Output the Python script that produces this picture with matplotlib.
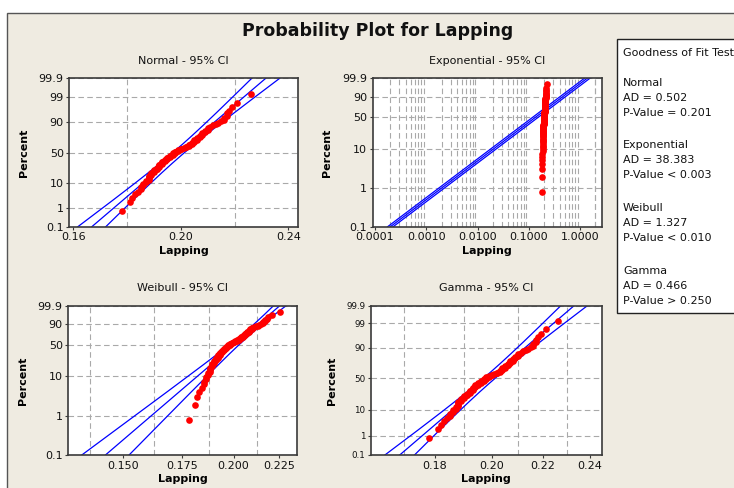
import numpy as np
import matplotlib
matplotlib.use('Agg')
import matplotlib.pyplot as plt
from matplotlib.ticker import FixedLocator, FixedFormatter, NullFormatter
from matplotlib.patches import Rectangle
from statistics import NormalDist

# ---------------- data ----------------
lapping = [0.178, 0.181, 0.182, 0.183, 0.184, 0.185, 0.185, 0.186, 0.186, 0.187,
           0.187, 0.188, 0.188, 0.188, 0.188, 0.189, 0.189, 0.189, 0.190, 0.190,
           0.190, 0.191, 0.191, 0.191, 0.192, 0.192, 0.192, 0.192, 0.193, 0.193,
           0.193, 0.193, 0.194, 0.194, 0.194, 0.195, 0.195, 0.195, 0.196, 0.196,
           0.196, 0.197, 0.197, 0.197, 0.198, 0.198, 0.198, 0.199, 0.199, 0.200,
           0.200, 0.201, 0.202, 0.202, 0.203, 0.203, 0.203, 0.204, 0.204, 0.204,
           0.205, 0.205, 0.205, 0.206, 0.206, 0.206, 0.207, 0.207, 0.207, 0.208,
           0.208, 0.208, 0.209, 0.209, 0.210, 0.210, 0.210, 0.211, 0.212, 0.213,
           0.214, 0.215, 0.216, 0.216, 0.217, 0.217, 0.218, 0.219, 0.221, 0.226]

gof_dists = ['Normal', 'Exponential', 'Weibull', 'Gamma']
gof_ad = ['0.502', '38.383', '1.327', '0.466']
gof_p = ['= 0.201', '< 0.003', '< 0.010', '> 0.250']

pct_ticks_full = [0.1, 1, 10, 50, 90, 99, 99.9]
pct_labels_full = ['0.1', '1', '10', '50', '90', '99', '99.9']
pct_ticks_ev = [0.1, 1, 10, 50, 90, 99.9]
pct_labels_ev = ['0.1', '1', '10', '50', '90', '99.9']

normal_xticks = [0.16, 0.20, 0.24]
normal_xlabels = ['0.16', '0.20', '0.24']
normal_xgrid = [0.16, 0.18, 0.20, 0.22, 0.24]

exp_xticks = [0.0001, 0.001, 0.01, 0.1, 1.0]
exp_xlabels = ['0.0001', '0.0010', '0.0100', '0.1000', '1.0000']
exp_xgrid = [m * 10.0 ** e for e in range(-4, 1) for m in range(1, 10)] + [2.0]

weib_xticks = [0.150, 0.175, 0.200, 0.225]
weib_xlabels = ['0.150', '0.175', '0.200', '0.225']
weib_xgrid = [0.1375, 0.150, 0.1625, 0.175, 0.1875, 0.200, 0.2125, 0.225]

gam_xticks = [0.18, 0.20, 0.22, 0.24]
gam_xlabels = ['0.18', '0.20', '0.22', '0.24']
gam_xgrid = [0.17, 0.18, 0.19, 0.20, 0.21, 0.22, 0.23, 0.24]

# ---------------- helpers ----------------
x = np.sort(np.array(lapping))
n = len(x)
ranks = np.arange(1, n + 1)
pos = 100.0 * (ranks - 0.3) / (n + 0.4)

_nd = NormalDist()
_inv = np.vectorize(_nd.inv_cdf, otypes=[float])
_cdf = np.vectorize(_nd.cdf, otypes=[float])


def norm_fwd(p):
    p = np.clip(np.asarray(p, float) / 100.0, 1e-9, 1 - 1e-9)
    return _inv(p)


def norm_inv(z):
    return 100.0 * _cdf(np.asarray(z, float))


def ev_fwd(p):
    p = np.clip(np.asarray(p, float) / 100.0, 1e-12, 1 - 1e-12)
    return np.log(-np.log1p(-p))


def ev_inv(y):
    return 100.0 * (-np.expm1(-np.exp(np.asarray(y, float))))


# fits
mu = x.mean()
sd = x.std()  # MLE

# Weibull MLE
lx = np.log(x)
xs = x / x.max()
lxs = np.log(xs)


def wg(beta):
    xb = xs ** beta
    return (xb * lxs).sum() / xb.sum() - 1.0 / beta - lxs.mean()


lo, hi = 0.5, 300.0
for _ in range(200):
    mid = 0.5 * (lo + hi)
    if wg(mid) > 0:
        hi = mid
    else:
        lo = mid
wbeta = 0.5 * (lo + hi)
walpha = np.mean(x ** wbeta) ** (1.0 / wbeta)

# Exponential
theta = x.mean()

# Gamma (Minka approximation)
s = np.log(x.mean()) - lx.mean()
gk = (3 - s + np.sqrt((s - 3) ** 2 + 24 * s)) / (12 * s)
gtheta = x.mean() / gk


def gam_q(p, k):
    z = norm_fwd(p)
    t = 1 - 1.0 / (9 * k) + z / (3 * np.sqrt(k))
    return k * np.maximum(t, 1e-9) ** 3


def gam_fwd(p):
    z = norm_fwd(p)
    t = 1 - 1.0 / (9 * gk) + z / (3 * np.sqrt(gk))
    return 3 * np.log(np.maximum(t, 1e-9))


def gam_inv(y):
    t = np.exp(np.asarray(y, float) / 3.0)
    z = (t - 1 + 1.0 / (9 * gk)) * 3 * np.sqrt(gk)
    return norm_inv(z)


P = np.concatenate([np.linspace(0.1, 1, 60), np.linspace(1, 99, 300), np.linspace(99, 99.9, 60)])
zc = 1.959964

# normal bands
zP = norm_fwd(P)
n_mid = mu + zP * sd
n_se = sd * np.sqrt(1.0 / n + zP ** 2 / (2.0 * n))
normal_lines = [n_mid - zc * n_se, n_mid, n_mid + zc * n_se]

# exponential bands
wP = -np.log1p(-P / 100.0)
e_mid = theta * wP
e_se = 0.6 / np.sqrt(n)
exp_lines = [e_mid * np.exp(-zc * e_se), e_mid, e_mid * np.exp(zc * e_se)]

# weibull bands
ew = np.log(wP)
b = 1.0 / wbeta
w_mid = np.log(walpha) + ew * b
w_se = b / np.sqrt(n) * np.sqrt(1.1087 - 0.5140 * ew + 0.6079 * ew ** 2)
weib_lines = [np.exp(w_mid - zc * w_se), np.exp(w_mid), np.exp(w_mid + zc * w_se)]

# gamma bands (delta method)
psi1 = 1.0 / gk + 1.0 / (2 * gk ** 2) + 1.0 / (6 * gk ** 3)
info = n * np.array([[psi1, 1.0 / gtheta], [1.0 / gtheta, gk / gtheta ** 2]])
cov = np.linalg.inv(info)
lq = np.log(gtheta * gam_q(P, gk))
dk = gk * 1e-4
dlq_dk = (np.log(gam_q(P, gk + dk)) - np.log(gam_q(P, gk - dk))) / (2 * dk)
dlq_dt = 1.0 / gtheta
g_var = cov[0, 0] * dlq_dk ** 2 + 2 * cov[0, 1] * dlq_dk * dlq_dt + cov[1, 1] * dlq_dt ** 2
g_se = np.sqrt(np.maximum(g_var, 0))
gam_lines = [np.exp(lq - zc * g_se), np.exp(lq), np.exp(lq + zc * g_se)]

# ---------------- figure ----------------
W, H = 734, 488
fig = plt.figure(figsize=(W / 100, H / 100), dpi=100)
fig.patch.set_facecolor('white')
bg = Rectangle((7 / W, -0.1), 1.2, 1.1 - 13 / H, transform=fig.transFigure,
               facecolor='#EFEBE1', edgecolor='#555555', linewidth=1.0, zorder=-10)
fig.patches.append(bg)

FONT = 'DejaVu Sans'
BLUE = '#0000FF'
RED = '#FF0000'
GRID = '#A9A9A9'
SPINE = '#3A3A3A'


def frac(l, t, r, btm):
    return [l / W, 1 - btm / H, (r - l) / W, (btm - t) / H]


def style(ax, title, yscale_funcs, yticks, ylabels, xticks, xlabels, xgrid, xlim, xlog,
          ylabsize, ylpad):
    ax.set_facecolor('white')
    if xlog:
        ax.set_xscale('log')
    ax.set_yscale('function', functions=yscale_funcs)
    ax.set_xlim(*xlim)
    ax.set_ylim(0.1, 99.9)
    ax.xaxis.set_major_locator(FixedLocator(xticks))
    ax.xaxis.set_major_formatter(FixedFormatter(xlabels))
    ax.xaxis.set_minor_locator(FixedLocator(xgrid))
    ax.xaxis.set_minor_formatter(NullFormatter())
    ax.yaxis.set_major_locator(FixedLocator(yticks))
    ax.yaxis.set_major_formatter(FixedFormatter(ylabels))
    ax.yaxis.set_minor_locator(FixedLocator([]))
    ax.grid(True, which='minor', axis='x', color=GRID, linestyle=(0, (5, 3)), linewidth=0.8)
    ax.grid(True, which='major', axis='y', color=GRID, linestyle=(0, (5, 3)), linewidth=0.8)
    ax.set_axisbelow(True)
    ax.tick_params(axis='both', which='major', length=2.5, width=0.8, pad=1.5,
                   color=SPINE, labelcolor='#111111')
    ax.tick_params(axis='x', which='major', labelsize=8)
    ax.tick_params(axis='y', which='major', labelsize=ylabsize)
    ax.tick_params(axis='both', which='minor', length=0)
    for sp in ax.spines.values():
        sp.set_color(SPINE)
        sp.set_linewidth(1.2)
    ax.set_title(title, fontsize=8, pad=10.5, family=FONT, color='#111111')
    ax.set_ylabel('Percent', fontsize=8, fontweight='bold', family=FONT, labelpad=ylpad)
    ax.set_xlabel('Lapping', fontsize=8, fontweight='bold', family=FONT, labelpad=2.5)


panels = [
    ('Normal - 95% CI', frac(69.3, 78.3, 298.3, 226.7), (norm_fwd, norm_inv),
     pct_ticks_full, pct_labels_full, normal_xticks, normal_xlabels, normal_xgrid,
     (0.1585, 0.2437), False, normal_lines, 8, 7.0),
    ('Exponential - 95% CI', frac(372.7, 78.3, 601.7, 226.7), (ev_fwd, ev_inv),
     pct_ticks_ev, pct_labels_ev, exp_xticks, exp_xlabels, exp_xgrid,
     (9.0e-5, 2.65), True, exp_lines, 8, 7.0),
    ('Weibull - 95% CI', frac(68.3, 305.7, 297.0, 455.0), (ev_fwd, ev_inv),
     pct_ticks_ev, pct_labels_ev, weib_xticks, weib_xlabels, weib_xgrid,
     (0.130, 0.236), True, weib_lines, 8, 7.0),
    ('Gamma - 95% CI', frac(371.0, 305.7, 601.7, 455.0), (gam_fwd, gam_inv),
     pct_ticks_full, pct_labels_full, gam_xticks, gam_xlabels, gam_xgrid,
     (0.1598, 0.2453), True, gam_lines, 6.3, 6.5),
]

for (title, rect, funcs, yt, yl, xt, xl, xg, xlim, xlog, lines, ylsz, ylpad) in panels:
    ax = fig.add_axes(rect)
    style(ax, title, funcs, yt, yl, xt, xl, xg, xlim, xlog, ylsz, ylpad)
    for ln in lines:
        ax.plot(ln, P, color=BLUE, linewidth=0.9, zorder=2)
    ax.plot(x, pos, linestyle='none', marker='o', markersize=4.8, color=RED,
            markeredgewidth=0, zorder=3)

fig.text(378 / W, 1 - 31 / H, 'Probability Plot for Lapping', ha='center', va='center',
         fontsize=12.5, fontweight='bold', family=FONT, color='#111111')

# Goodness of fit box
box = Rectangle((617.3 / W, 1 - 312.7 / H), 0.3, (312.7 - 39.3) / H, transform=fig.transFigure,
                facecolor='white', edgecolor='#222222', linewidth=1.0, zorder=1)
fig.patches.append(box)


def btxt(y, s):
    fig.text(623 / W, 1 - y / H, s, ha='left', va='center', fontsize=8, family=FONT,
             color='#111111')


btxt(52.7, 'Goodness of Fit Test')
group_y = [82.7, 145.0, 208.3, 270.7]
for gy, d, ad, pv in zip(group_y, gof_dists, gof_ad, gof_p):
    btxt(gy, d)
    btxt(gy + 15.0, 'AD = ' + ad)
    btxt(gy + 30.0, 'P-Value ' + pv)

fig.savefig('out.png', dpi=100, facecolor=fig.get_facecolor())
